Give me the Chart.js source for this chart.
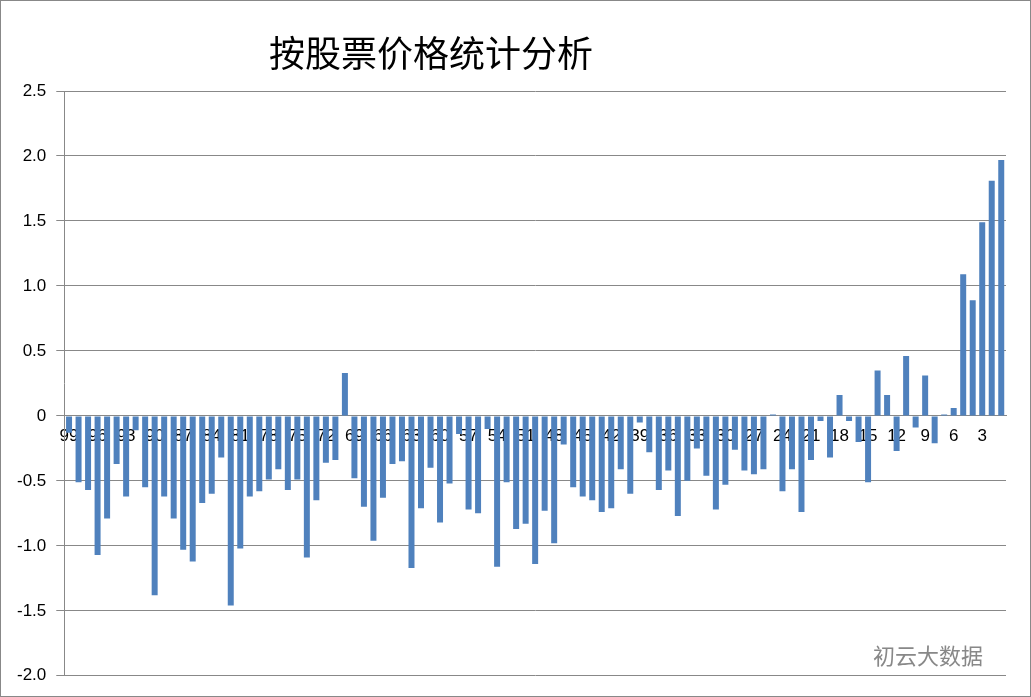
<!DOCTYPE html>
<html><head><meta charset="utf-8">
<script src="https://cdn.jsdelivr.net/npm/chart.js@4"></script>
<style>
html,body{margin:0;padding:0;background:#fff;}
#wrap{position:relative;width:1029px;height:695px;border:1px solid #888;}
#title{position:absolute;left:268px;top:24px;font:36px "Noto Sans CJK SC";color:#000;}
#wm{position:absolute;left:872px;top:637px;font:22px "Noto Sans CJK SC";color:#888;}
</style></head><body>
<div id="wrap"><canvas id="c" width="1029" height="695"></canvas>
<div id="title">按股票价格统计分析</div><div id="wm">初云大数据</div></div>
<script>
const categories=[];for(let i=99;i>=1;i--)categories.push(String(i));
const values=[-0.13,-0.51,-0.57,-1.07,-0.79,-0.37,-0.62,-0.11,-0.55,-1.38,
-0.62,-0.79,-1.03,-1.12,-0.67,-0.60,-0.32,-1.46,-1.02,-0.62,
-0.58,-0.49,-0.41,-0.57,-0.49,-1.09,-0.65,-0.36,-0.34,0.33,
-0.48,-0.70,-0.96,-0.63,-0.37,-0.35,-1.17,-0.71,-0.40,-0.82,
-0.52,-0.14,-0.72,-0.75,-0.10,-1.16,-0.51,-0.87,-0.83,-1.14,
-0.73,-0.98,-0.22,-0.55,-0.62,-0.65,-0.74,-0.71,-0.41,-0.60,
-0.05,-0.28,-0.57,-0.42,-0.77,-0.50,
-0.25,-0.46,-0.72,-0.53,-0.26,-0.42,-0.45,-0.41,0.01,-0.58,
-0.41,-0.74,-0.34,-0.04,-0.32,0.16,-0.04,-0.20,-0.51,0.35,
0.16,-0.27,0.46,-0.09,0.31,-0.21,0.01,0.06,1.09,0.89,
1.49,1.81,1.97];
const yTicks=[2.5,2,1.5,1,0.5,0,-0.5,-1,-1.5,-2];
new Chart(document.getElementById('c'),{type:'bar',
data:{labels:categories,datasets:[{data:values,backgroundColor:'#4f81bd',barPercentage:0.9,categoryPercentage:0.7}]},
options:{responsive:false,animation:false,
layout:{padding:{top:90,right:24,bottom:20,left:6}},
plugins:{legend:{display:false},tooltip:{enabled:false}},
scales:{
x:{position:{y:0},grid:{display:false},border:{color:'#888'},
ticks:{autoSkip:false,maxRotation:0,font:{size:17,family:'Liberation Sans'},color:'#000',padding:2,
callback:(v,i)=>i%3===0?categories[i]:''}},
y:{min:-2,max:2.5,afterBuildTicks:a=>{a.ticks=yTicks.map(v=>({value:v}));},
grid:{color:'#888'},border:{color:'#888'},
ticks:{font:{size:17,family:'Liberation Sans'},color:'#000',padding:10}}}}});
</script></body></html>
